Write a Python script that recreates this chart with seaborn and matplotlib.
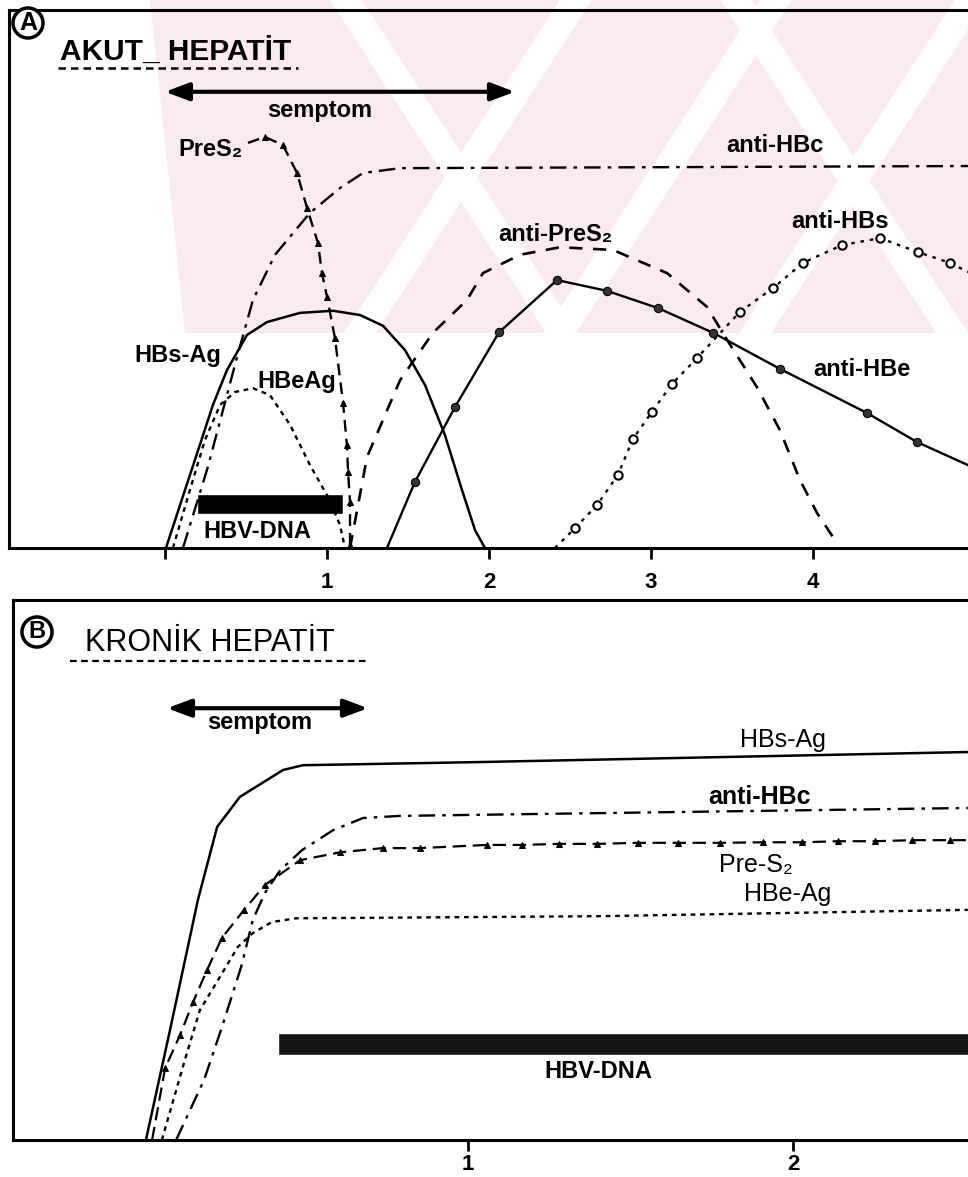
import matplotlib
matplotlib.use('Agg')
import matplotlib.pyplot as plt
from matplotlib.patches import Polygon
import pandas as pd
import seaborn as sns

# ---------------- panel A : akut hepatit ----------------
a_hbsag_x = [0.006, 0.093, 0.185, 0.296, 0.383, 0.506, 0.630, 0.833, 1.037, 1.204, 1.346, 1.481, 1.605, 1.728, 1.833, 1.914, 1.975]
a_hbsag_y = [0.0, 0.080, 0.164, 0.266, 0.331, 0.396, 0.420, 0.437, 0.441, 0.433, 0.413, 0.368, 0.303, 0.210, 0.108, 0.033, 0.0]

a_hbeag_x = [0.049, 0.154, 0.247, 0.340, 0.432, 0.543, 0.648, 0.772, 0.895, 1.006, 1.080, 1.111]
a_hbeag_y = [0.0, 0.108, 0.201, 0.266, 0.290, 0.297, 0.284, 0.229, 0.154, 0.095, 0.043, 0.0]

a_antihbc_x = [0.111, 0.265, 0.451, 0.543, 0.679, 0.895, 1.080, 1.222, 1.450, 4.957]
a_antihbc_y = [0.0, 0.151, 0.362, 0.461, 0.545, 0.623, 0.669, 0.697, 0.706, 0.710]

a_pres2_x = [0.512, 0.617, 0.728, 0.815, 0.877, 0.944, 0.969, 1.000, 1.049, 1.099, 1.123, 1.130, 1.142, 1.142]
a_pres2_y = [0.753, 0.764, 0.749, 0.697, 0.632, 0.567, 0.511, 0.467, 0.390, 0.270, 0.191, 0.141, 0.086, 0.006]

a_antipres2_x = [1.142, 1.247, 1.451, 1.654, 1.864, 1.963, 2.191, 2.438, 2.765, 3.099, 3.346, 3.469, 3.654, 3.796, 3.920, 4.025, 4.148]
a_antipres2_y = [0.0, 0.169, 0.312, 0.400, 0.461, 0.511, 0.545, 0.559, 0.554, 0.511, 0.448, 0.387, 0.299, 0.219, 0.126, 0.065, 0.009]

a_antihbe_x = [1.370, 1.543, 1.790, 2.062, 2.420, 2.728, 3.043, 3.383, 3.796, 4.333, 4.642, 4.957]
a_antihbe_y = [0.0, 0.123, 0.262, 0.401, 0.498, 0.478, 0.446, 0.400, 0.333, 0.251, 0.197, 0.154]

a_antihbs_x = [2.407, 2.531, 2.667, 2.796, 2.889, 3.006, 3.130, 3.284, 3.549, 3.753, 3.938, 4.179, 4.414, 4.648, 4.846, 4.957]
a_antihbs_y = [0.0, 0.037, 0.080, 0.136, 0.203, 0.253, 0.305, 0.353, 0.439, 0.483, 0.530, 0.563, 0.576, 0.550, 0.530, 0.513]

a_dna_start, a_dna_end, a_dna_level = 0.198, 1.099, 0.082
a_symptom = (0.0, 2.16)
a_ticks = [0, 1, 2, 3, 4]
a_ticklabels = ["", "1", "2", "3", "4"]

# ---------------- panel B : kronik hepatit ----------------
b_hbsag_x = [0.009, 0.083, 0.169, 0.228, 0.298, 0.431, 0.492, 1.037, 2.538]
b_hbsag_y = [0.0, 0.208, 0.455, 0.593, 0.650, 0.701, 0.710, 0.716, 0.735]

b_antihbc_x = [0.102, 0.188, 0.243, 0.302, 0.338, 0.375, 0.422, 0.489, 0.585, 0.677, 0.791, 2.538]
b_antihbc_y = [0.0, 0.114, 0.214, 0.328, 0.417, 0.468, 0.511, 0.549, 0.587, 0.610, 0.614, 0.629]

b_pres2_x = [0.028, 0.068, 0.114, 0.154, 0.197, 0.243, 0.311, 0.375, 0.483, 0.606, 0.738, 0.852, 1.058,
             1.166, 1.280, 1.397, 1.523, 1.646, 1.775, 1.908, 2.028, 2.138, 2.252, 2.366, 2.483, 2.538]
b_pres2_y = [0.0, 0.136, 0.199, 0.261, 0.322, 0.383, 0.436, 0.483, 0.530, 0.545, 0.553, 0.553, 0.559,
             0.559, 0.561, 0.561, 0.563, 0.563, 0.563, 0.564, 0.564, 0.566, 0.566, 0.568, 0.568, 0.568]

b_hbeag_x = [0.058, 0.129, 0.175, 0.225, 0.292, 0.338, 0.397, 0.471, 1.406, 2.538]
b_hbeag_y = [0.0, 0.152, 0.246, 0.297, 0.366, 0.392, 0.413, 0.420, 0.424, 0.436]

b_dna_start, b_dna_end, b_dna_level = 0.415, 2.54, 0.182
b_symptom = (0.074, 0.692)
b_ticks = [1, 2]
b_ticklabels = ["1", "2"]

W, H = 968, 1177


def fx(px):
    return px / W


def fy(py):
    return 1 - py / H


def curve(ax, x, y, **kw):
    df = pd.DataFrame({'x': x, 'y': y})
    sns.lineplot(data=df, x='x', y='y', sort=False, estimator=None,
                 ax=ax, color='black', **kw)


sns.set_theme(style="white")
plt.rcParams['font.family'] = ['Liberation Sans', 'DejaVu Sans']
plt.rcParams['text.color'] = 'black'

fig = plt.figure(figsize=(W / 100, H / 100), dpi=100)

# faint pink watermark in the upper part of the scan (kept behind the axes)
pink = '#fcebee'
fig.add_artist(Polygon([(fx(150), fy(0)), (fx(968), fy(0)), (fx(968), fy(333)), (fx(185), fy(333))],
                       closed=True, transform=fig.transFigure, facecolor=pink, edgecolor='none', zorder=-3))
for x0, d in [(560, -1), (760, -1), (955, -1), (330, 1), (720, 1)]:
    sh = 216 * d
    fig.add_artist(Polygon([(fx(x0), fy(0)), (fx(x0 + 32), fy(0)),
                            (fx(x0 + 32 + sh), fy(333)), (fx(x0 + sh), fy(333))],
                           closed=True, transform=fig.transFigure, facecolor='white',
                           edgecolor='none', zorder=-2))

ax1 = fig.add_axes([fx(9), fy(548), fx(968) - fx(9), fy(10) - fy(548)])
ax2 = fig.add_axes([fx(13), fy(1140), fx(968) - fx(13), fy(600) - fy(1140)])

for ax, pad in ((ax1, 9), (ax2, 2)):
    ax.patch.set_alpha(0)
    ax.grid(False)
    for s in ('left', 'top', 'bottom'):
        ax.spines[s].set_visible(True)
        ax.spines[s].set_color('black')
        ax.spines[s].set_linewidth(2.2)
    ax.spines['right'].set_visible(False)
    ax.tick_params(axis='x', bottom=True, direction='out', length=8, width=2,
                   colors='black', pad=pad)
    ax.tick_params(axis='y', left=False, labelleft=False)

# ---- panel A curves
curve(ax1, a_hbsag_x, a_hbsag_y, linewidth=1.8)
curve(ax1, a_hbeag_x, a_hbeag_y, linewidth=1.7, linestyle=(0, (2, 2)))
curve(ax1, a_antihbc_x, a_antihbc_y, linewidth=1.7, linestyle=(0, (7, 3, 1.5, 3)))
curve(ax1, a_pres2_x, a_pres2_y, linewidth=1.7, linestyle=(0, (5, 3)),
      marker='^', markersize=5, markerfacecolor='black', markeredgecolor='black',
      markevery=list(range(1, len(a_pres2_x))))
curve(ax1, a_antipres2_x, a_antipres2_y, linewidth=1.9, linestyle=(0, (5, 4)))
curve(ax1, a_antihbe_x, a_antihbe_y, linewidth=1.7,
      marker='o', markersize=6, markerfacecolor='#333333', markeredgecolor='black',
      markevery=list(range(1, len(a_antihbe_x) - 1)))
curve(ax1, a_antihbs_x, a_antihbs_y, linewidth=1.7, linestyle=(0, (1.5, 2.5)),
      marker='o', markersize=6, markerfacecolor='white', markeredgecolor='black', markeredgewidth=1.5,
      markevery=list(range(1, len(a_antihbs_x) - 1)))
ax1.barh(y=a_dna_level, width=a_dna_end - a_dna_start, left=a_dna_start,
         height=0.036, color='black')

ax1.annotate('', xy=(a_symptom[0], 0.848), xytext=(a_symptom[1], 0.848),
             arrowprops=dict(arrowstyle='<|-|>,head_length=1.2,head_width=0.45',
                             lw=3, color='black', shrinkA=0, shrinkB=0))
ax1.text(0.957, 0.814, 'semptom', ha='center', va='center', fontsize=17, fontweight='bold')

lab = dict(ha='center', va='center', fontsize=17, fontweight='bold', color='black')
ax1.text(0.278, 0.740, 'PreS₂', **lab)
ax1.text(3.765, 0.749, 'anti-HBc', **lab)
ax1.text(2.407, 0.582, 'anti-PreS₂', **lab)
ax1.text(4.167, 0.606, 'anti-HBs', **lab)
ax1.text(0.080, 0.357, 'HBs-Ag', **lab)
ax1.text(0.815, 0.310, 'HBeAg', **lab)
ax1.text(4.302, 0.331, 'anti-HBe', **lab)
ax1.text(0.568, 0.030, 'HBV-DNA', **lab)

ax1.set_xlim((9 - 165) / 162, (968 - 165) / 162)
ax1.set_ylim(0, 1.0)
ax1.set_xticks(a_ticks)
ax1.set_xticklabels(a_ticklabels, fontsize=16, fontweight='bold')
ax1.set(xlabel='', ylabel='')

# ---- panel B curves
curve(ax2, b_hbsag_x, b_hbsag_y, linewidth=1.8)
curve(ax2, b_antihbc_x, b_antihbc_y, linewidth=1.7, linestyle=(0, (7, 3, 1.5, 3)))
curve(ax2, b_pres2_x, b_pres2_y, linewidth=1.6, linestyle=(0, (6, 3)),
      marker='^', markersize=5, markerfacecolor='black', markeredgecolor='black',
      markevery=list(range(1, len(b_pres2_x) - 1)))
curve(ax2, b_hbeag_x, b_hbeag_y, linewidth=1.7, linestyle=(0, (2, 2)))
ax2.barh(y=b_dna_level, width=b_dna_end - b_dna_start, left=b_dna_start,
         height=0.042, color='#151515')

ax2.annotate('', xy=(b_symptom[0], 0.818), xytext=(b_symptom[1], 0.818),
             arrowprops=dict(arrowstyle='<|-|>,head_length=1.2,head_width=0.45',
                             lw=3, color='black', shrinkA=0, shrinkB=0))
ax2.text(0.36, 0.790, 'semptom', ha='center', va='center', fontsize=17, fontweight='bold')

labb = dict(ha='center', va='center', fontsize=18, color='black')
ax2.text(1.970, 0.758, 'HBs-Ag', **labb)
ax2.text(1.898, 0.650, 'anti-HBc', fontweight='bold', **labb)
ax2.text(1.886, 0.521, 'Pre-S₂', **labb)
ax2.text(1.985, 0.466, 'HBe-Ag', **labb)
ax2.text(1.400, 0.129, 'HBV-DNA', ha='center', va='center', fontsize=17, fontweight='bold')

ax2.set_xlim((13 - 143) / 325, (968 - 143) / 325)
ax2.set_ylim(0, 1.023)
ax2.set_xticks(b_ticks)
ax2.set_xticklabels(b_ticklabels, fontsize=16, fontweight='bold')
ax2.set(xlabel='', ylabel='')

# ---- panel titles
fig.text(fx(28), fy(23), 'A', ha='center', va='center', fontsize=18, fontweight='bold',
         bbox=dict(boxstyle='circle,pad=0.12', facecolor='white', edgecolor='black', linewidth=2.5))
fig.text(fx(60), fy(52), 'AKUT_ HEPATİT', ha='left', va='center', fontsize=21.5, fontweight='bold')
fig.add_artist(plt.Line2D([fx(58), fx(298)], [fy(68), fy(68)], transform=fig.transFigure,
                          color='black', linewidth=1.8, linestyle=(0, (3, 2))))

fig.text(fx(37), fy(632), 'B', ha='center', va='center', fontsize=17, fontweight='bold',
         bbox=dict(boxstyle='circle,pad=0.15', facecolor='white', edgecolor='black', linewidth=2.5))
fig.text(fx(85), fy(643), 'KRONİK HEPATİT', ha='left', va='center', fontsize=22)
fig.add_artist(plt.Line2D([fx(70), fx(367)], [fy(661), fy(661)], transform=fig.transFigure,
                          color='black', linewidth=1.6, linestyle=(0, (3, 2))))

fig.savefig('out.png', dpi=100)
plt.close(fig)
